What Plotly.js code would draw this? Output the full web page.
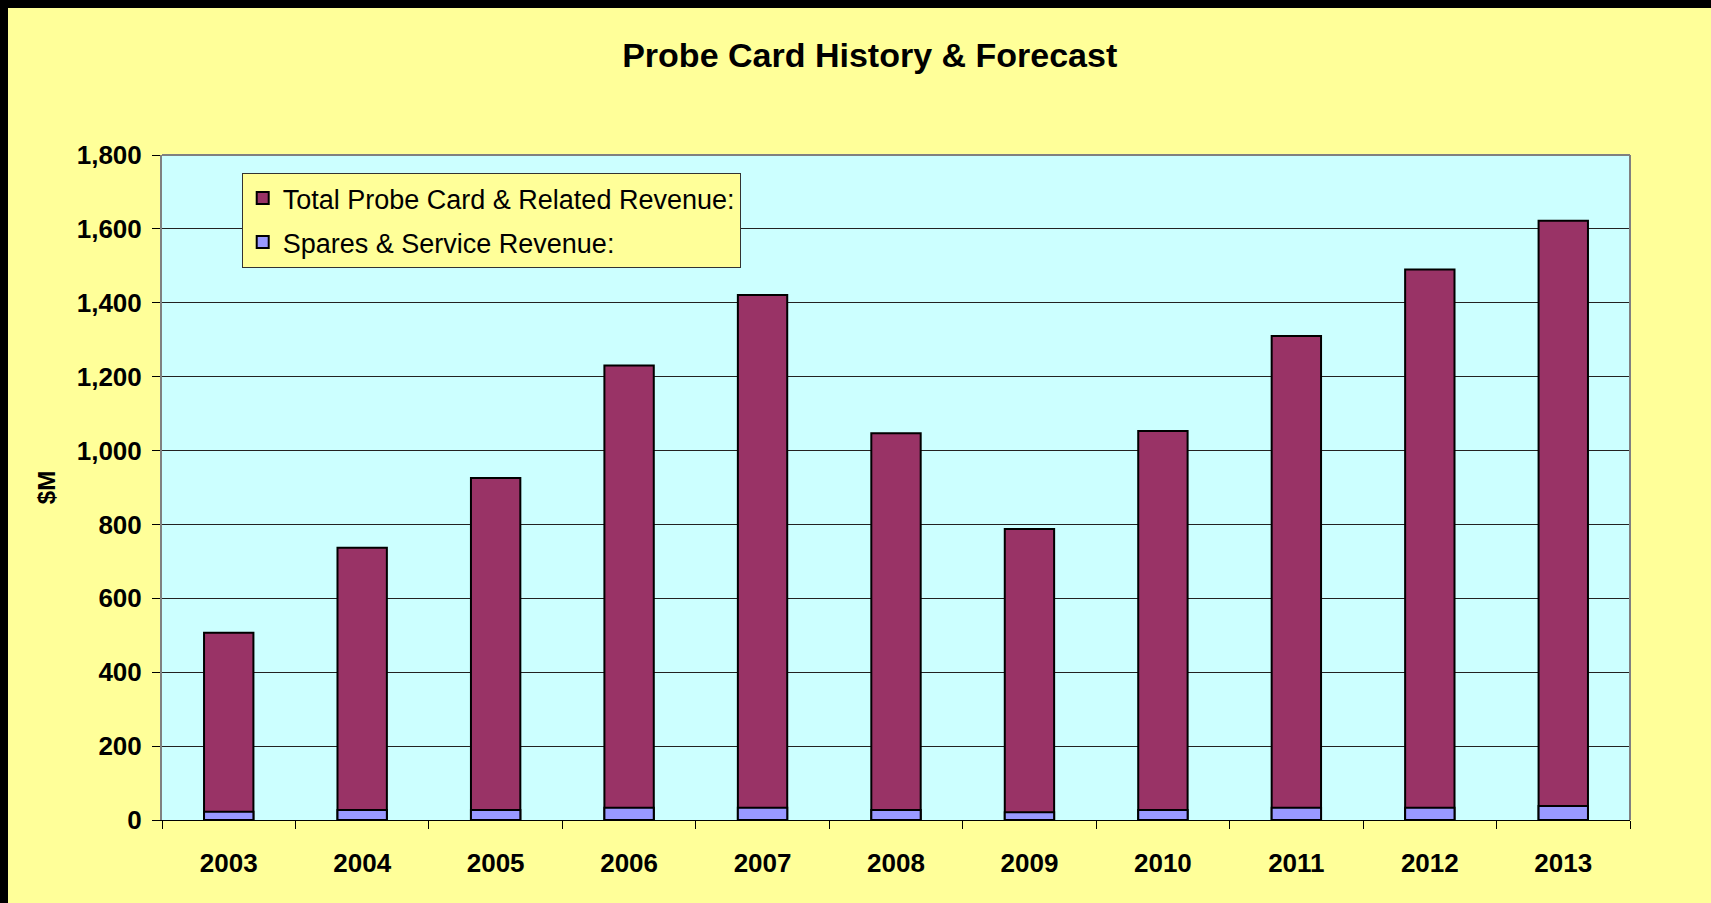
<!DOCTYPE html>
<html>
<head>
<meta charset="utf-8">
<script src="https://cdn.plot.ly/plotly-3.0.1.min.js"></script>
<style>
  html, body { margin: 0; padding: 0; background: #000; }
  #wrap { position: absolute; left: 0; top: 0; width: 1711px; height: 903px; background: #000; }
  #chart { position: absolute; left: 8px; top: 8px; width: 1703px; height: 895px; }
</style>
</head>
<body>
<div id="wrap"><div id="chart"></div></div>
<script>
const years = ['2003','2004','2005','2006','2007','2008','2009','2010','2011','2012','2013'];
const totalRevenue = [507, 737, 926, 1230, 1421, 1047, 788, 1053, 1310, 1490, 1622];
const sparesRevenue = [22, 27, 27, 33, 33, 27, 21, 27, 33, 33, 38];
const yTicks = [0, 200, 400, 600, 800, 1000, 1200, 1400, 1600, 1800];

const fontFam = '"Liberation Sans", Arial, sans-serif';

const traces = [
  {
    type: 'bar', name: 'Total Probe Card & Related Revenue:',
    x: years, y: totalRevenue, width: 0.37,
    legendgroup: 'groupTotal',
    marker: { color: '#993366', line: { color: '#000000', width: 2 } },
    hoverinfo: 'x+y'
  },
  {
    type: 'bar', name: 'Spares & Service Revenue:',
    x: years, y: sparesRevenue, width: 0.37,
    legendgroup: 'groupSpares',
    marker: { color: '#9999FF', line: { color: '#000000', width: 2 } },
    hoverinfo: 'x+y'
  }
];

const layout = {
  width: 1703, height: 895,
  margin: { l: 154, r: 81, t: 147, b: 83 },
  paper_bgcolor: '#FFFF99',
  plot_bgcolor: '#CCFFFF',
  barmode: 'overlay',
  separators: '.,',
  font: { family: fontFam, color: '#000000' },
  title: {
    text: '<b>Probe Card History & Forecast</b>',
    font: { family: fontFam, size: 34, color: '#000000' },
    xref: 'container', x: 0.506, xanchor: 'center',
    yref: 'container', y: 0.947, yanchor: 'middle'
  },
  xaxis: {
    type: 'category',
    tickson: 'boundaries',
    ticks: 'outside', ticklen: 8, tickwidth: 1, tickcolor: '#000000',
    showline: true, linecolor: '#000000', linewidth: 1,
    showgrid: false,
    tickfont: { family: fontFam, size: 26, color: '#000000', weight: 'bold' },
    ticklabelstandoff: 20,
    fixedrange: true
  },
  yaxis: {
    range: [0, 1800],
    tickvals: yTicks,
    tickformat: ',d',
    separatethousands: true,
    ticks: 'outside', ticklen: 8, tickwidth: 1, tickcolor: '#000000',
    showline: true, linecolor: '#808080', linewidth: 2,
    showgrid: true, gridcolor: '#222222', gridwidth: 1,
    zeroline: false,
    tickfont: { family: fontFam, size: 26, color: '#000000', weight: 'bold' },
    ticklabelstandoff: 5,
    title: { text: '<b>$M</b>', font: { family: fontFam, size: 24, color: '#000000' }, standoff: 14 },
    automargin: false,
    fixedrange: true
  },
  legend: {
    x: 0.0543, y: 0.973, xanchor: 'left', yanchor: 'top',
    bgcolor: '#FFFF99', bordercolor: '#333333', borderwidth: 1,
    font: { family: fontFam, size: 27, color: '#000000' },
    tracegroupgap: 6,
    traceorder: 'grouped',
    valign: 'middle'
  },
  shapes: [
    { type: 'line', xref: 'paper', yref: 'paper', x0: 0, x1: 1, y0: 1, y1: 1, line: { color: '#808080', width: 2 } },
    { type: 'line', xref: 'paper', yref: 'paper', x0: 1, x1: 1, y0: 0, y1: 1, line: { color: '#808080', width: 2 } }
  ],
  showlegend: true
};

Plotly.newPlot('chart', traces, layout, { displayModeBar: false, staticPlot: false });
</script>
</body>
</html>
